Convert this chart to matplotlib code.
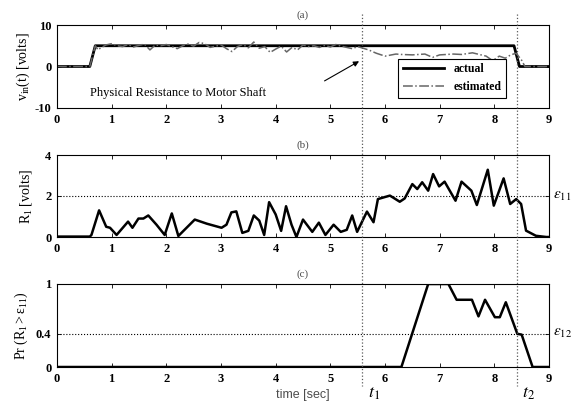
import numpy as np
import matplotlib
matplotlib.use("Agg")
import matplotlib.pyplot as plt

plt.rcParams['font.family'] = ['Liberation Serif', 'DejaVu Serif']
plt.rcParams['mathtext.fontset'] = 'stix'

# ---- data ----
act_t = [0, 0.6, 0.7, 8.36, 8.46, 9]
act_v = [0, 0, 5, 5, 0, 0]

est_t = [0, 0.6, 0.7, 0.75, 0.8, 0.9, 1.0, 1.1, 1.2, 1.3, 1.4, 1.5, 1.6, 1.7, 1.8,
         1.9, 2.0, 2.1, 2.2, 2.3, 2.4, 2.5, 2.6, 2.7, 2.8, 2.9, 3.0, 3.1, 3.2, 3.3,
         3.4, 3.5, 3.6, 3.7, 3.8, 3.9, 4.0, 4.1, 4.2, 4.3, 4.4, 4.5, 4.6, 4.7, 4.8,
         4.9, 5.0, 5.1, 5.2, 5.3, 5.4, 5.5, 5.6, 5.7, 5.84, 6.0, 6.2, 6.3, 6.5, 6.73,
         6.87, 7.0, 7.25, 7.4, 7.6, 7.85, 7.97, 8.09, 8.2, 8.3, 8.4, 8.5, 8.56, 9]
est_v = [0, 0, 5, 4.0, 4.5, 5.2, 5.5, 5.0, 4.8, 5.3, 4.7, 5.1, 5.4, 4.0, 5.2,
         5.0, 5.3, 4.8, 4.3, 5.0, 5.4, 4.9, 5.8, 5.5, 4.6, 4.9, 5.2, 4.3, 3.6, 4.8,
         5.3, 4.5, 5.9, 4.4, 4.8, 3.4, 4.2, 4.9, 3.5, 4.6, 4.0, 5.2, 4.8, 5.0, 4.6,
         5.1, 4.7, 5.3, 4.9, 4.6, 4.3, 4.8, 4.4, 4.0, 3.2, 2.5, 3.0, 2.9, 2.8, 3.0,
         2.2, 2.8, 3.0, 2.9, 3.3, 2.5, 1.4, 2.5, 2.0, 2.8, 3.2, 1.5, 0, 0]

r1_t = [0, 0.6, 0.63, 0.77, 0.9, 0.97, 1.09, 1.3, 1.38, 1.49, 1.58, 1.67, 1.82, 1.97,
        2.1, 2.22, 2.52, 2.74, 3.01, 3.1, 3.19, 3.28, 3.39, 3.5, 3.6, 3.7, 3.79, 3.88,
        4.0, 4.1, 4.19, 4.29, 4.38, 4.5, 4.67, 4.79, 4.91, 5.06, 5.19, 5.3, 5.4, 5.49,
        5.67, 5.79, 5.87, 6.09, 6.27, 6.36, 6.5, 6.59, 6.68, 6.79, 6.88, 6.99, 7.09,
        7.29, 7.4, 7.58, 7.68, 7.88, 7.99, 8.17, 8.29, 8.4, 8.49, 8.58, 8.76, 8.95, 9]
r1_v = [0.02, 0.02, 0.1, 1.3, 0.5, 0.45, 0.1, 0.75, 0.45, 0.9, 0.9, 1.05, 0.6, 0.1,
        1.15, 0.05, 0.85, 0.65, 0.45, 0.6, 1.2, 1.25, 0.2, 0.3, 1.05, 0.8, 0.1, 1.7,
        1.1, 0.3, 1.5, 0.6, 0.0, 0.85, 0.25, 0.7, 0.1, 0.6, 0.25, 0.35, 1.05, 0.25,
        1.24, 0.72, 1.85, 2.02, 1.72, 1.88, 2.58, 2.34, 2.67, 2.26, 3.07, 2.47, 2.7,
        1.77, 2.7, 2.26, 1.56, 3.28, 1.53, 2.86, 1.61, 1.85, 1.61, 0.31, 0.06, 0.0, 0.0]

pr_t = [0, 6.3, 6.79, 7.16, 7.31, 7.59, 7.71, 7.83, 8.01, 8.1, 8.21, 8.42, 8.5, 8.7, 9]
pr_v = [0, 0, 1, 1, 0.81, 0.81, 0.61, 0.81, 0.6, 0.6, 0.78, 0.4, 0.39, 0, 0]

yticks_a, ylabels_a = [-10, 0, 10], ['-10', '0', '10']
yticks_b, ylabels_b = [0, 2, 4], ['0', '2', '4']
yticks_c, ylabels_c = [0, 0.4, 1], ['0', '0.4', '1']

t1, t2 = 5.58, 8.41
eps11, eps12 = 2, 0.4

W, H = 581, 412
fig = plt.figure(figsize=(W / 100, H / 100), dpi=100)

def px_axes(left, top, right, bottom):
    return fig.add_axes([left / W, 1 - bottom / H, (right - left) / W, (bottom - top) / H])

axa = px_axes(57, 25, 549, 108)
axb = px_axes(57, 155, 549, 237)
axc = px_axes(57, 284, 549, 367)

for ax, yt, yl in ((axa, yticks_a, ylabels_a), (axb, yticks_b, ylabels_b),
                   (axc, yticks_c, ylabels_c)):
    ax.set_xlim(0, 9)
    ax.set_xticks(range(10))
    ax.set_yticks(yt)
    ax.set_yticklabels(yl)
    ax.tick_params(direction='in', top=True, right=True, length=3, width=0.6, pad=4)
    for lab in ax.get_xticklabels() + ax.get_yticklabels():
        lab.set_fontweight('bold')
        lab.set_fontsize(9)
    for s in ax.spines.values():
        s.set_linewidth(0.8)

# (a)
axa.plot(act_t, act_v, color='black', lw=2, label='actual')
axa.plot(est_t, est_v, color='0.4', lw=1.1, ls='-.', label='estimated')
axa.set_ylim(-10, 10)
axa.set_ylabel(r'$\mathregular{v_{in}(t)\ [volts]}$', fontsize=10, labelpad=2)
axa.set_title('(a)', fontsize=8, color='0.3', pad=5)
axa.text(0.6, -6.4, 'Physical Resistance to Motor Shaft', fontsize=9, va='center')
axa.annotate('', xy=(5.57, 1.6), xytext=(4.85, -3.8),
             arrowprops=dict(arrowstyle='-|>', color='black', lw=0.8, mutation_scale=8))
leg = axa.legend(loc='lower right', bbox_to_anchor=(0.925, 0.05), fancybox=False,
                 edgecolor='black', handlelength=3.5, borderpad=0.4, labelspacing=0.5,
                 prop=dict(weight='bold', size=8.5), framealpha=1)
leg.get_frame().set_linewidth(0.8)

# (b)
axb.plot(r1_t, r1_v, color='black', lw=1.8)
axb.axhline(eps11, color='black', ls=':', lw=0.8)
axb.set_ylim(0, 4)
axb.set_ylabel(r'$\mathregular{R_1\ [volts]}$', fontsize=10, labelpad=8)
axb.set_title('(b)', fontsize=8, color='0.3', pad=5)
axb.text(9.08, eps11, r'$\varepsilon_{\mathit{11}}$', fontsize=11, va='center')

# (c)
axc.plot(pr_t, pr_v, color='black', lw=1.8)
axc.axhline(eps12, color='black', ls=':', lw=0.8)
axc.set_ylim(0, 1)
axc.set_ylabel(r'$\mathregular{Pr\ (R_1 > \varepsilon_{11})}$', fontsize=10, labelpad=4)
axc.set_title('(c)', fontsize=8, color='0.3', pad=5)
axc.text(9.08, eps12, r'$\varepsilon_{\mathit{12}}$', fontsize=11, va='center')
axc.set_xlabel('time [sec]', fontsize=9, family='Liberation Sans', color='0.3', labelpad=3)

# vertical event markers spanning all panels
ov = fig.add_axes([57 / W, 0, 492 / W, 1], facecolor='none')
ov.set_xlim(0, 9)
ov.set_ylim(H, 0)
ov.axis('off')
for t, name in ((t1, r'$\mathit{t}_{\mathit{1}}$'), (t2, r'$\mathit{t}_{\mathit{2}}$')):
    ov.plot([t, t], [14, 386], color='0.35', ls=':', lw=0.9)
    ov.text(t + 0.1, 393, name, fontsize=13, va='center', ha='left')

fig.savefig('out.png', dpi=100)
